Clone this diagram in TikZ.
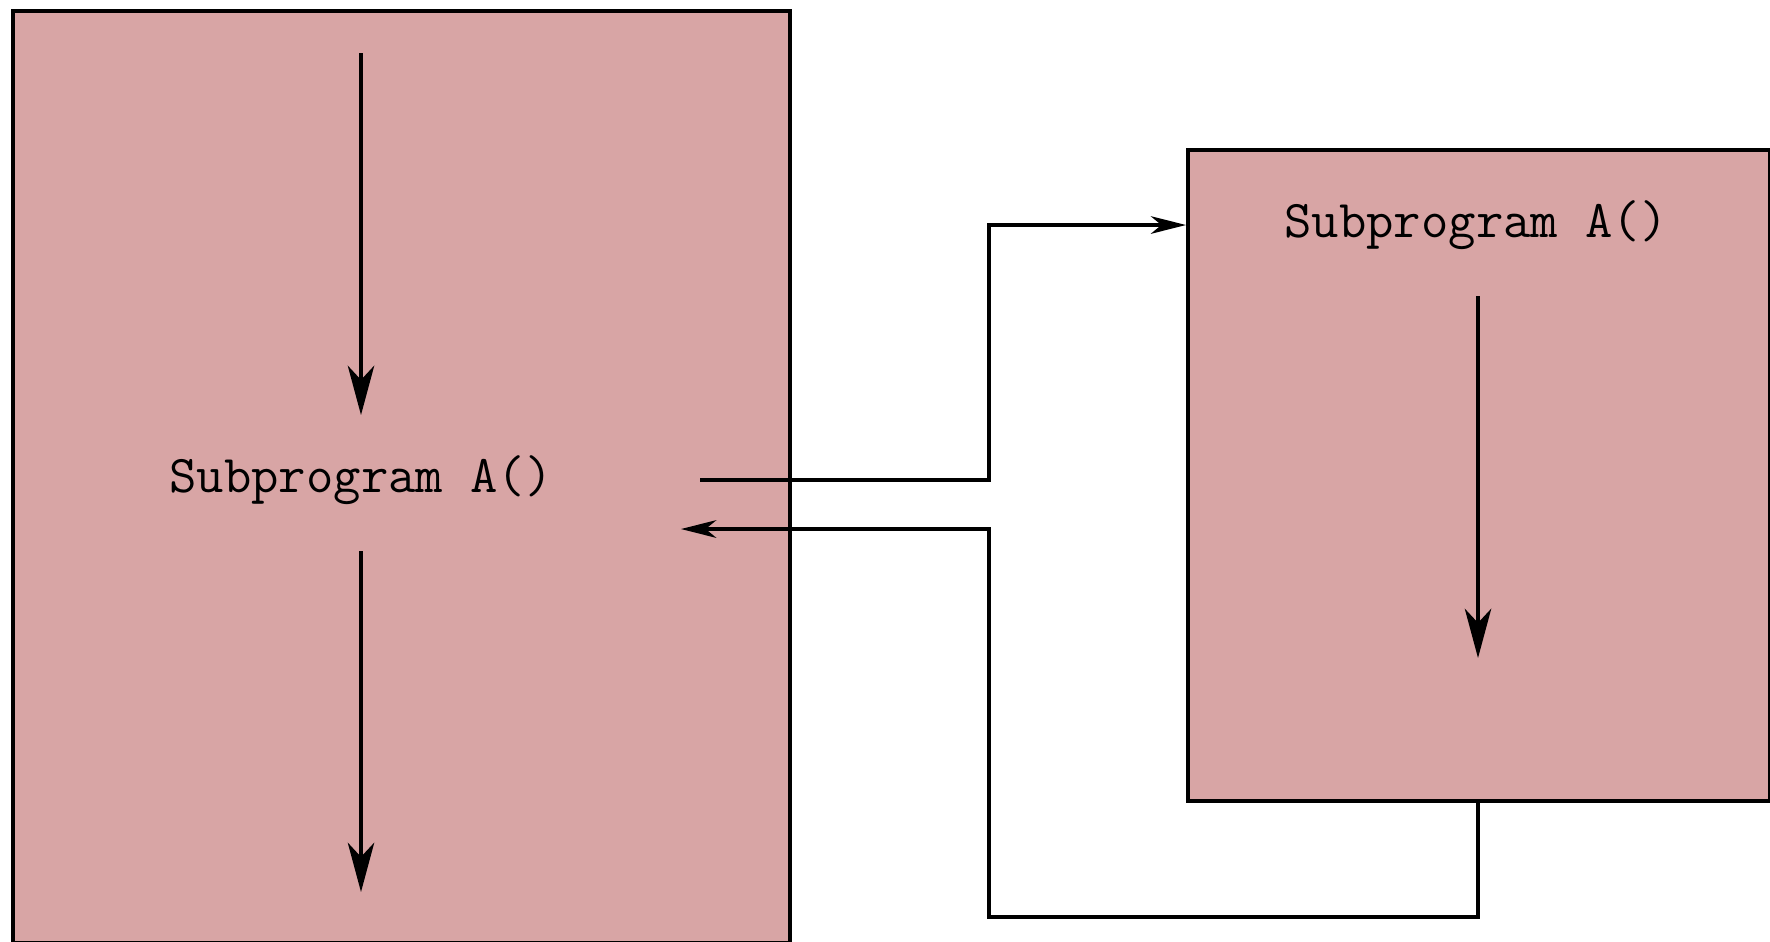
\documentclass[tikz,border=0pt]{standalone}
\usetikzlibrary{arrows.meta}
\definecolor{boxfill}{RGB}{216,165,165}
\begin{document}
\begin{tikzpicture}[x=0.01cm,y=-0.01cm,
  progbox/.style={draw=black,fill=boxfill,line width=1.1pt,inner sep=0pt,anchor=north west},
  lbl/.style={font=\fontsize{15.1}{18}\selectfont\ttfamily,inner sep=0pt},
  flow/.style={line width=1.1pt,-{Stealth[length=14pt,width=7.5pt,inset=4pt]}},
  call/.style={line width=1.1pt,-{Stealth[length=10pt,width=5pt,inset=3pt]}}]
\useasboundingbox (0,0) rectangle (1770,941);
\node[progbox,minimum width=7.77cm,minimum height=9.31cm] (main) at (11,9) {};
\node[progbox,minimum width=5.82cm,minimum height=6.51cm] (sub) at (1186,148) {};
\node[lbl] (mainA) at (361,480) {Subprogram A()};
\node[lbl] (subA) at (1476,225) {Subprogram A()};
\coordinate (m1s) at (361,53);
\coordinate (m1e) at (361,415);
\coordinate (m2s) at (361,551);
\coordinate (m2e) at (361,892);
\coordinate (s1s) at (1478,296);
\coordinate (s1e) at (1478,658);
\coordinate (outS) at (700,480);
\coordinate (outM) at (989,225);
\coordinate (retS) at (1478,799);
\coordinate (retB) at (989,917);
\coordinate (retE) at (681,529);
\draw[flow] (m1s) -- (m1e);
\draw[flow] (m2s) -- (m2e);
\draw[flow] (s1s) -- (s1e);
\draw[call] (outS) -| (outM) -- (sub.west |- outM);
\draw[call] (retS) |- (retB) |- (retE);
\end{tikzpicture}
\end{document}
